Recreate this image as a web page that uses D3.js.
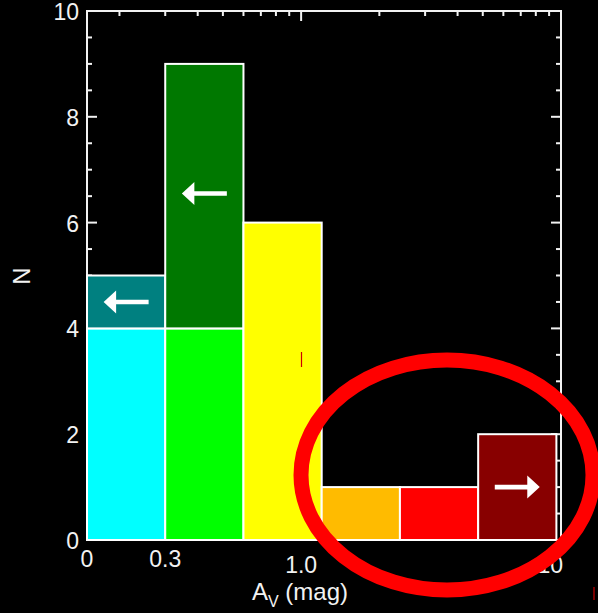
<!DOCTYPE html>
<html>
<head>
<meta charset="utf-8">
<script src="https://cdn.jsdelivr.net/npm/d3@7"></script>
<style>
  html, body { margin: 0; padding: 0; background: #000; }
  svg { display: block; }
  text { font-family: "Liberation Sans", Arial, sans-serif; fill: #f2f2f2; }
</style>
</head>
<body>
<div id="main"></div>
<script>
// A_V bins (factor 2 wide), lower count and upper/lower-limit counts stacked on top
const binLo = [0.15, 0.3, 0.6, 1.2, 2.4, 4.8];
const binHi = [0.3, 0.6, 1.2, 2.4, 4.8, 9.6];
const baseCounts = [4, 4, 6, 1, 1, 0];
const limitCounts = [1, 5, 0, 0, 0, 2];
const baseColors = ["#00ffff", "#00ff00", "#ffff00", "#ffbb00", "#ff0000", "#880000"];
const limitColors = ["#008080", "#007800", "none", "none", "none", "#880000"];
const arrowY = [4.5, 6.55, null, null, null, 1.0];
const arrowDir = [-1, -1, 0, 0, 0, 1];

const xMinorTicks = [0.2, 0.3, 0.4, 0.5, 0.6, 0.7, 0.8, 0.9, 2, 3, 4, 5, 6, 7, 8, 9];
const xMajorTicks = [1, 10];
const xTickValues = [0.15, 0.3, 1, 10];
const xTickLabels = ["0", "0.3", "1.0", "10"];
const yMajorTicks = [0, 2, 4, 6, 8, 10];
const yMinorTicks = d3.range(0, 10.01, 0.5).filter(v => v % 2 !== 0);

const W = 598, H = 613;
const pLeft = 87, pRight = 561, pTop = 11, pBottom = 540;

const svg = d3.select("#main").append("svg")
  .attr("width", W)
  .attr("height", H);

svg.append("rect").attr("width", W).attr("height", H).attr("fill", "#000");

const x = d3.scaleLog().domain([0.15, 10]).range([pLeft, pRight]);
const y = d3.scaleLinear().domain([0, 10]).range([pBottom, pTop]);

// frame + inward ticks on all four sides
const axes = svg.append("g").attr("stroke", "#f2f2f2").attr("stroke-width", 2).attr("fill", "none");
axes.append("rect")
  .attr("x", pLeft).attr("y", pTop)
  .attr("width", pRight - pLeft).attr("height", pBottom - pTop);

const addX = (vals, len) => {
  vals.forEach(v => {
    axes.append("line").attr("x1", x(v)).attr("x2", x(v)).attr("y1", pBottom).attr("y2", pBottom - len);
    axes.append("line").attr("x1", x(v)).attr("x2", x(v)).attr("y1", pTop).attr("y2", pTop + len);
  });
};
const addY = (vals, len) => {
  vals.forEach(v => {
    axes.append("line").attr("y1", y(v)).attr("y2", y(v)).attr("x1", pLeft).attr("x2", pLeft + len);
    axes.append("line").attr("y1", y(v)).attr("y2", y(v)).attr("x1", pRight).attr("x2", pRight - len);
  });
};
addX(xMinorTicks, 5);
addX(xMajorTicks, 10);
addY(yMinorTicks, 5);
addY(yMajorTicks, 10);

// histogram bars
const bars = svg.append("g").attr("stroke", "#ffffff").attr("stroke-width", 2);
binLo.forEach((lo, i) => {
  const hi = binHi[i];
  if (baseCounts[i] > 0) {
    bars.append("rect")
      .attr("x", x(lo)).attr("width", x(hi) - x(lo))
      .attr("y", y(baseCounts[i])).attr("height", y(0) - y(baseCounts[i]))
      .attr("fill", baseColors[i]);
  }
  if (limitCounts[i] > 0) {
    const t = baseCounts[i] + limitCounts[i];
    bars.append("rect")
      .attr("x", x(lo)).attr("width", x(hi) - x(lo))
      .attr("y", y(t)).attr("height", y(baseCounts[i]) - y(t))
      .attr("fill", limitColors[i]);
  }
});

// limit arrows
binLo.forEach((lo, i) => {
  if (!arrowDir[i]) return;
  const cx = x(Math.sqrt(lo * binHi[i]));
  const cy = y(arrowY[i]);
  const d = arrowDir[i], half = 22.5, head = 12.5, hh = 11.5, sw = 2.3;
  const tip = cx + d * half, tail = cx - d * half, base = tip - d * head;
  const pts = [[tail, cy - sw], [base, cy - sw], [base, cy - hh], [tip, cy],
               [base, cy + hh], [base, cy + sw], [tail, cy + sw]];
  svg.append("polygon").attr("points", pts.map(p => p.join(",")).join(" ")).attr("fill", "#ffffff");
});

// tick labels
svg.selectAll(".ylab").data(yMajorTicks).enter().append("text")
  .attr("class", "ylab")
  .attr("x", pLeft - 8)
  .attr("y", d => y(d) + 9)
  .attr("text-anchor", "end")
  .attr("font-size", 23)
  .text(d => d);

svg.selectAll(".xlab").data(xTickValues).enter().append("text")
  .attr("class", "xlab")
  .attr("x", (d, i) => i === xTickValues.length - 1 ? x(d) + 2 : x(d))
  .attr("y", d => d >= 1 ? 573 : 567)
  .attr("text-anchor", (d, i) => i === xTickValues.length - 1 ? "end" : "middle")
  .attr("font-size", 23)
  .text((d, i) => xTickLabels[i]);

// axis titles
const xt = svg.append("text")
  .attr("x", 300).attr("y", 600)
  .attr("text-anchor", "middle")
  .attr("font-size", 24);
xt.append("tspan").text("A");
xt.append("tspan").attr("font-size", 16).attr("dy", 7).text("V");
xt.append("tspan").attr("dy", -7).text(" (mag)");

svg.append("text")
  .attr("transform", "translate(30,276) rotate(-90)")
  .attr("text-anchor", "middle")
  .attr("font-size", 24)
  .text("N");

// annotation ellipse and stray marks
svg.append("ellipse")
  .attr("cx", 447).attr("cy", 475)
  .attr("rx", 146).attr("ry", 115)
  .attr("fill", "none")
  .attr("stroke", "#ff0000")
  .attr("stroke-width", 15);

svg.append("line").attr("x1", 301.5).attr("x2", 301.5).attr("y1", 352).attr("y2", 367)
  .attr("stroke", "#cc0000").attr("stroke-width", 1.2);
svg.append("line").attr("x1", 594).attr("x2", 594).attr("y1", 587).attr("y2", 600)
  .attr("stroke", "#cc0000").attr("stroke-width", 1.2);
</script>
</body>
</html>
